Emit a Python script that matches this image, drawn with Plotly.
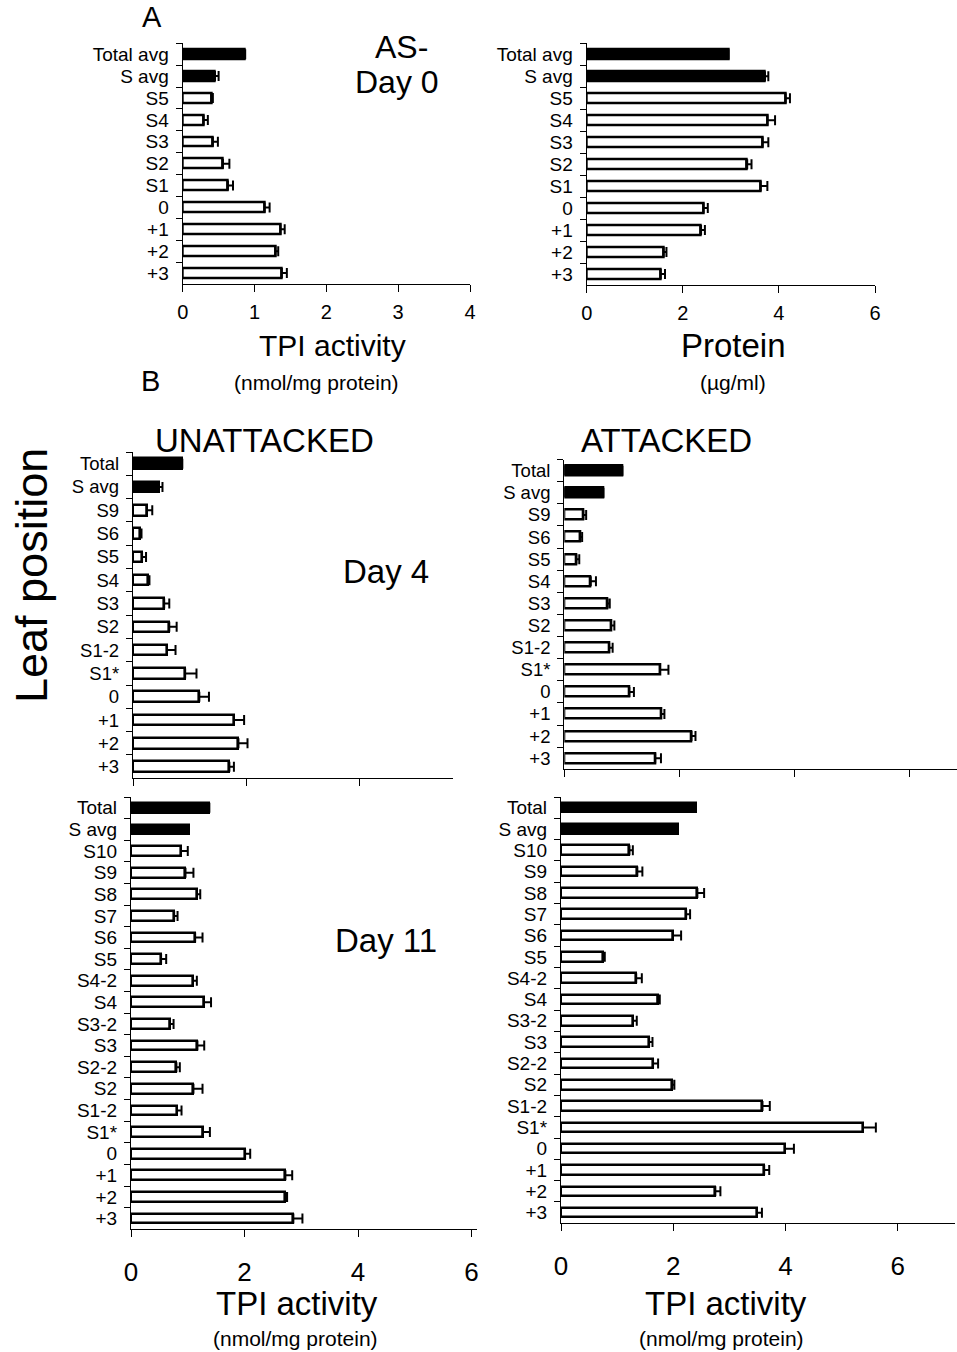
import plotly.graph_objects as go

W, H = 957, 1352
FONT = "Liberation Sans, Arial, sans-serif"

# ---------------- data ----------------
cats_day0 = ["Total avg", "S avg", "S5", "S4", "S3", "S2", "S1", "0", "+1", "+2", "+3"]
tpi_day0 = [0.87, 0.45, 0.40, 0.29, 0.42, 0.56, 0.63, 1.14, 1.36, 1.29, 1.38]
tpi_day0_err = [0, 0.05, 0.02, 0.06, 0.07, 0.09, 0.07, 0.07, 0.06, 0.04, 0.07]
protein_day0 = [2.95, 3.71, 4.14, 3.76, 3.66, 3.34, 3.62, 2.43, 2.38, 1.60, 1.54]
protein_day0_err = [0, 0.07, 0.09, 0.16, 0.12, 0.09, 0.14, 0.09, 0.08, 0.06, 0.09]

cats_day4 = ["Total", "S avg", "S9", "S6", "S5", "S4", "S3", "S2", "S1-2", "S1*", "0", "+1", "+2", "+3"]
tpi_day4_unatt = [0.87, 0.45, 0.24, 0.13, 0.16, 0.27, 0.55, 0.64, 0.60, 0.92, 1.17, 1.78, 1.86, 1.70]
tpi_day4_unatt_err = [0, 0.07, 0.10, 0.02, 0.07, 0.02, 0.09, 0.13, 0.15, 0.20, 0.17, 0.18, 0.16, 0.08]
tpi_day4_att = [1.01, 0.68, 0.33, 0.27, 0.21, 0.46, 0.75, 0.81, 0.78, 1.66, 1.13, 1.68, 2.21, 1.58]
tpi_day4_att_err = [0, 0, 0.05, 0.04, 0.05, 0.09, 0.04, 0.06, 0.06, 0.15, 0.08, 0.06, 0.07, 0.10]

cats_day11 = ["Total", "S avg", "S10", "S9", "S8", "S7", "S6", "S5", "S4-2", "S4", "S3-2", "S3",
              "S2-2", "S2", "S1-2", "S1*", "0", "+1", "+2", "+3"]
tpi_day11_unatt = [1.38, 1.02, 0.88, 0.96, 1.16, 0.76, 1.13, 0.53, 1.09, 1.28, 0.68, 1.17,
                   0.80, 1.10, 0.81, 1.26, 2.01, 2.72, 2.72, 2.86]
tpi_day11_unatt_err = [0, 0, 0.12, 0.14, 0.06, 0.06, 0.13, 0.09, 0.07, 0.13, 0.07, 0.12,
                       0.06, 0.16, 0.08, 0.13, 0.09, 0.12, 0.03, 0.16]
tpi_day11_att = [2.40, 2.08, 1.22, 1.36, 2.43, 2.23, 1.99, 0.75, 1.34, 1.72, 1.28, 1.57,
                 1.64, 1.98, 3.59, 5.38, 3.99, 3.62, 2.75, 3.49]
tpi_day11_att_err = [0, 0, 0.06, 0.09, 0.12, 0.07, 0.15, 0.03, 0.10, 0.04, 0.07, 0.06,
                     0.09, 0.04, 0.13, 0.23, 0.16, 0.09, 0.09, 0.09]

avg_labels = {"Total avg", "Total", "S avg"}

fig = go.Figure()
layout = {}


def px_x(p):
    return p / W


def px_y(p):
    return 1 - p / H


def panel(i, cats, vals, errs, xpx, ypx, xmax, dtick, show_ticklabels,
          tick_size, cat_size, standoff):
    n = len(cats)
    colors = ["black" if c in avg_labels else "white" for c in cats]
    fig.add_trace(go.Bar(
        y=cats, x=vals, orientation="h", width=0.45,
        marker=dict(color=colors, line=dict(color="black", width=2.6)),
        error_x=dict(type="data", array=errs, arrayminus=[0] * n, symmetric=False,
                     color="black", thickness=2, width=5),
        xaxis="x" if i == 1 else f"x{i}", yaxis="y" if i == 1 else f"y{i}",
        showlegend=False,
    ))
    xa = "xaxis" if i == 1 else f"xaxis{i}"
    ya = "yaxis" if i == 1 else f"yaxis{i}"
    layout[xa] = dict(
        domain=[px_x(xpx[0]), px_x(xpx[1])], range=[0, xmax],
        anchor="y" if i == 1 else f"y{i}", automargin=False,
        showline=True, linecolor="black", linewidth=1.3,
        ticks="outside", ticklen=7, tickwidth=1.3, tickcolor="black",
        tickmode="linear", tick0=0, dtick=dtick, showgrid=False, zeroline=False,
        showticklabels=show_ticklabels, ticklabelstandoff=standoff,
        tickfont=dict(family=FONT, size=tick_size, color="black"),
    )
    layout[ya] = dict(
        domain=[px_y(ypx[1]), px_y(ypx[0])], type="category",
        categoryorder="array", categoryarray=cats, automargin=False,
        range=[n - 0.5, -0.5], anchor="x" if i == 1 else f"x{i}",
        showline=True, linecolor="black", linewidth=1.3,
        ticks="outside", tickson="boundaries", ticklen=6, tickwidth=1.3,
        tickmode="linear", tick0=0, dtick=1,
        tickcolor="black", showgrid=False, zeroline=False,
        ticklabelstandoff=9,
        tickfont=dict(family=FONT, size=cat_size, color="black"),
    )


panel(1, cats_day0, tpi_day0, tpi_day0_err, (182.7, 470), (43.3, 284), 4, 1, True, 20, 19, 3)
panel(2, cats_day0, protein_day0, protein_day0_err, (586.7, 875), (43.3, 285), 6, 2, True, 20, 19, 3)
panel(3, cats_day4, tpi_day4_unatt, tpi_day4_unatt_err, (133, 453.3), (452, 778.3), 5.65, 2, False, 20, 18.5, 3)
panel(4, cats_day4, tpi_day4_att, tpi_day4_att_err, (564.3, 956.7), (459.6, 769.3), 6.82, 2, False, 20, 18.5, 3)
panel(5, cats_day11, tpi_day11_unatt, tpi_day11_unatt_err, (131, 476.7), (797, 1229.3), 6.09, 2, True, 26, 19, 12)
panel(6, cats_day11, tpi_day11_att, tpi_day11_att_err, (561, 955), (797, 1223.3), 7.02, 2, True, 26, 19, 12)


def ann(text, x, y, size, angle=0):
    return dict(text=text, x=px_x(x), y=px_y(y), xref="paper", yref="paper",
                xanchor="center", yanchor="middle", showarrow=False, textangle=angle,
                font=dict(family=FONT, size=size, color="black"))


annotations = [
    ann("A", 152, 17, 29),
    ann("AS-", 401, 47, 32),
    ann("Day 0", 397, 82, 32),
    ann("TPI activity", 332, 345, 30),
    ann("(nmol/mg protein)", 316, 383, 21),
    ann("Protein", 733, 345, 33),
    ann("(µg/ml)", 733, 382, 21),
    ann("B", 150, 381, 29),
    ann("UNATTACKED", 264, 440, 33),
    ann("ATTACKED", 666, 440, 33),
    ann("Leaf position", 32, 576, 45, -90),
    ann("Day 4", 386, 571, 33),
    ann("Day 11", 386, 940, 33),
    ann("TPI activity", 297, 1303, 33),
    ann("(nmol/mg protein)", 295, 1338, 21),
    ann("TPI activity", 726, 1303, 33),
    ann("(nmol/mg protein)", 721, 1338, 21),
]

fig.update_layout(
    template="none",
    width=W, height=H, margin=dict(l=0, r=0, t=0, b=0, pad=0, autoexpand=False),
    paper_bgcolor="white", plot_bgcolor="white",
    font=dict(family=FONT, color="black"),
    annotations=annotations, bargap=0, showlegend=False,
    **layout,
)

fig.write_html(
    "out.html",
    config={"displayModeBar": False},
    post_script="document.body.style.margin='0px';document.body.style.overflow='hidden';",
)
